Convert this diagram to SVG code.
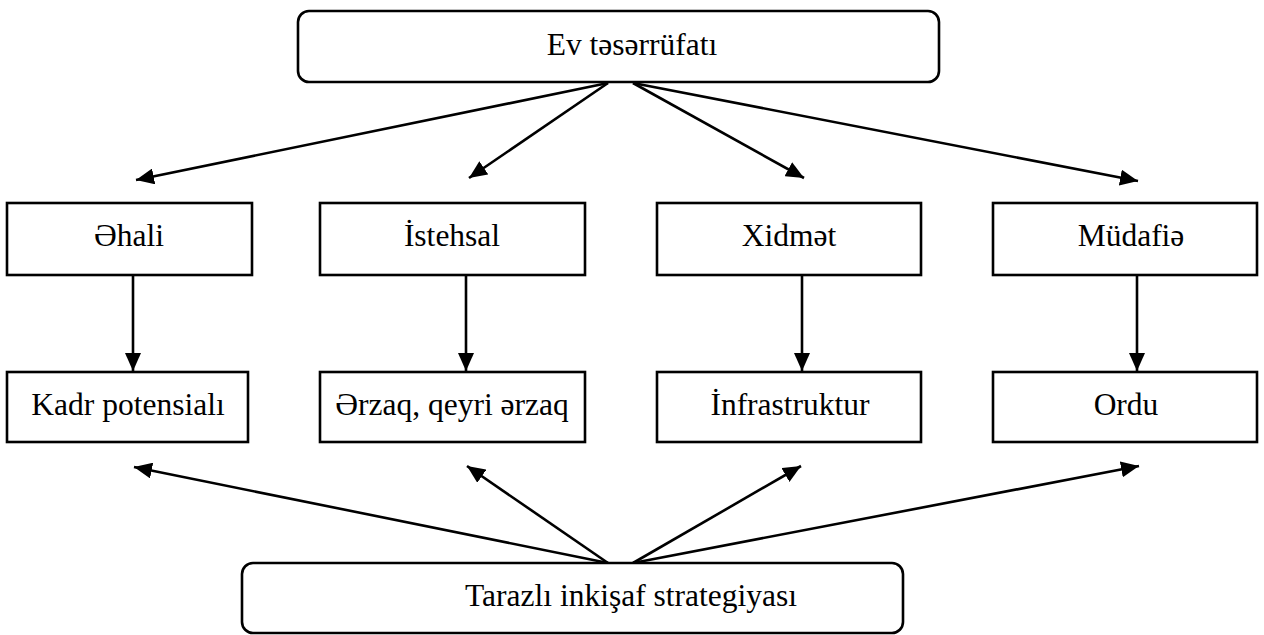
<svg xmlns="http://www.w3.org/2000/svg" width="1264" height="635" viewBox="0 0 1264 635">
  <style>
    .box { fill: #ffffff; stroke: #000000; stroke-width: 2.6; }
    .lbl { font-family: "Liberation Serif", "Times New Roman", serif; font-size: 31.5px; fill: #000000; text-anchor: middle; }
    .link { stroke: #000000; stroke-width: 2.6; fill: none; marker-end: url(#arrow); }
  </style>
  <defs>
    <marker id="arrow" markerUnits="userSpaceOnUse" markerWidth="19" markerHeight="16" refX="18" refY="8" orient="auto">
      <path d="M0,0 L18,8 L0,16 z" fill="#000000"/>
    </marker>
  </defs>

  <rect width="1264" height="635" fill="#ffffff"/>

  <!-- connectors -->
  <g id="connectors">
    <line class="link" x1="608" y1="83" x2="136" y2="180"/>
    <line class="link" x1="608" y1="83" x2="469" y2="178"/>
    <line class="link" x1="633" y1="83" x2="804" y2="178"/>
    <line class="link" x1="633" y1="83" x2="1138" y2="181"/>

    <line class="link" x1="133" y1="276" x2="133" y2="371"/>
    <line class="link" x1="466" y1="276" x2="466" y2="371"/>
    <line class="link" x1="802" y1="276" x2="802" y2="371"/>
    <line class="link" x1="1137" y1="276" x2="1137" y2="371"/>

    <line class="link" x1="608" y1="563" x2="134" y2="467"/>
    <line class="link" x1="608" y1="563" x2="467" y2="466"/>
    <line class="link" x1="633" y1="563" x2="801" y2="466"/>
    <line class="link" x1="633" y1="563" x2="1139" y2="466"/>
  </g>

  <!-- top node -->
  <g id="ev-teserrufati">
    <rect class="box" x="298" y="11" width="641" height="71" rx="11"/>
    <text class="lbl" x="632" y="55">Ev təsərrüfatı</text>
  </g>

  <!-- first row -->
  <g id="ehali">
    <rect class="box" x="7" y="203" width="245" height="72"/>
    <text class="lbl" x="129" y="246">Əhali</text>
  </g>
  <g id="istehsal">
    <rect class="box" x="320" y="203" width="265" height="72"/>
    <text class="lbl" x="452" y="246">İstehsal</text>
  </g>
  <g id="xidmet">
    <rect class="box" x="657" y="203" width="264" height="72"/>
    <text class="lbl" x="789" y="246">Xidmət</text>
  </g>
  <g id="mudafie">
    <rect class="box" x="993" y="203" width="264" height="72"/>
    <text class="lbl" x="1131" y="246">Müdafiə</text>
  </g>

  <!-- second row -->
  <g id="kadr-potensiali">
    <rect class="box" x="7" y="372" width="241" height="70"/>
    <text class="lbl" x="128" y="415">Kadr potensialı</text>
  </g>
  <g id="erzaq">
    <rect class="box" x="320" y="372" width="265" height="70"/>
    <text class="lbl" x="452" y="415">Ərzaq, qeyri ərzaq</text>
  </g>
  <g id="infrastruktur">
    <rect class="box" x="657" y="372" width="264" height="70"/>
    <text class="lbl" x="790" y="415">İnfrastruktur</text>
  </g>
  <g id="ordu">
    <rect class="box" x="993" y="372" width="264" height="70"/>
    <text class="lbl" x="1126" y="415">Ordu</text>
  </g>

  <!-- bottom node -->
  <g id="tarazli-inkisaf">
    <rect class="box" x="242" y="563" width="661" height="70" rx="11"/>
    <text class="lbl" x="631" y="606">Tarazlı inkişaf strategiyası</text>
  </g>
</svg>
